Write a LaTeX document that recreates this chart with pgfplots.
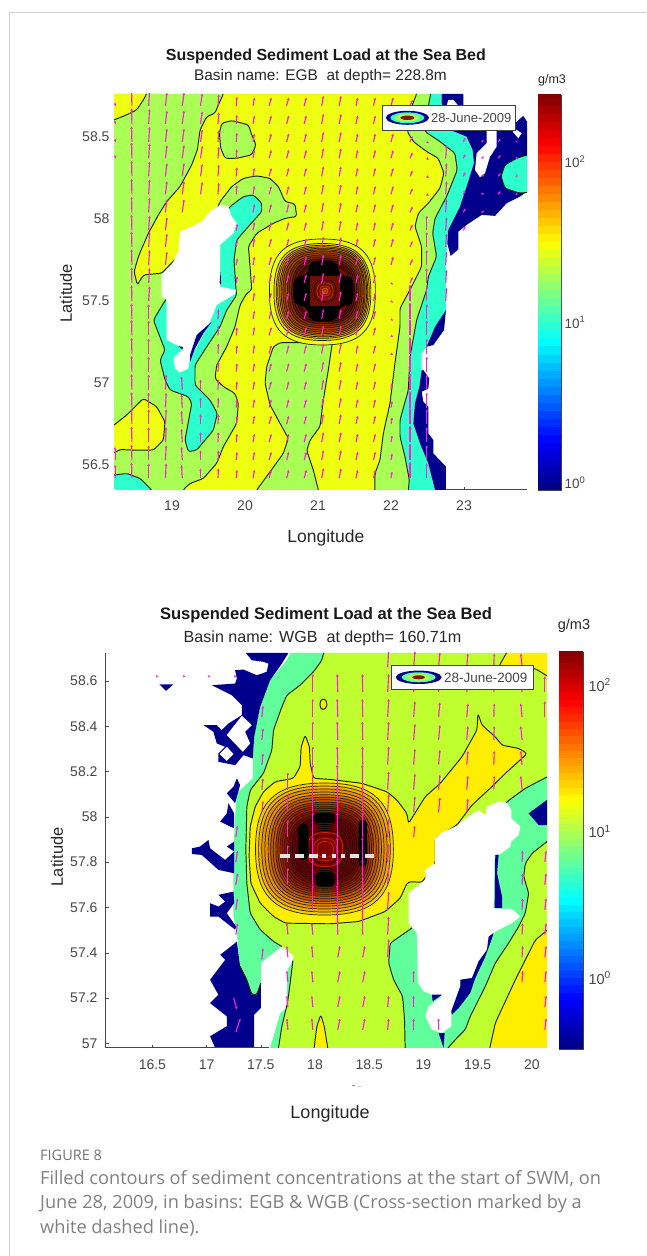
\documentclass[border=0pt]{standalone}
\usepackage{fontspec}
\setmainfont{Liberation Sans}
\newfontfamily\capfont{Open Sans}
\usepackage{pgfplots}
\usepackage{pgfplotstable}
\pgfplotsset{compat=1.18}
\usetikzlibrary{arrows.meta}
\definecolor{ya}{RGB}{238,255,16}
\definecolor{ga}{RGB}{170,255,85}
\definecolor{ta}{RGB}{45,255,205}
\definecolor{yb}{RGB}{255,238,0}
\definecolor{gb}{RGB}{191,255,48}
\definecolor{tb}{RGB}{96,255,155}
\definecolor{nv}{RGB}{0,0,140}
\definecolor{cl}{RGB}{25,35,10}
\definecolor{pk}{RGB}{255,30,220}
\definecolor{txt}{RGB}{70,70,70}
\definecolor{o1}{RGB}{250,205,0}
\definecolor{o2}{RGB}{245,175,0}
\definecolor{o3}{RGB}{235,145,0}
\definecolor{o4}{RGB}{220,115,0}
\definecolor{o5}{RGB}{200,85,0}
\definecolor{o6}{RGB}{175,60,0}
\definecolor{o7}{RGB}{150,40,0}
\definecolor{o8}{RGB}{130,25,0}
\definecolor{o9}{RGB}{110,15,0}
\definecolor{r1}{RGB}{190,50,0}
\definecolor{r2}{RGB}{170,25,0}
\definecolor{r3}{RGB}{150,10,0}
\definecolor{r4}{RGB}{130,0,0}
\pgfdeclareplotmark{rr}{%
 \pgfpathmoveto{\pgfpoint{\pgfplotmarksize}{0pt}}%
 \pgfpathcurveto{\pgfpoint{\pgfplotmarksize}{.72\pgfplotmarksize}}{\pgfpoint{.72\pgfplotmarksize}{\pgfplotmarksize}}{\pgfpoint{0pt}{\pgfplotmarksize}}%
 \pgfpathcurveto{\pgfpoint{-.72\pgfplotmarksize}{\pgfplotmarksize}}{\pgfpoint{-\pgfplotmarksize}{.72\pgfplotmarksize}}{\pgfpoint{-\pgfplotmarksize}{0pt}}%
 \pgfpathcurveto{\pgfpoint{-\pgfplotmarksize}{-.72\pgfplotmarksize}}{\pgfpoint{-.72\pgfplotmarksize}{-\pgfplotmarksize}}{\pgfpoint{0pt}{-\pgfplotmarksize}}%
 \pgfpathcurveto{\pgfpoint{.72\pgfplotmarksize}{-\pgfplotmarksize}}{\pgfpoint{\pgfplotmarksize}{-.72\pgfplotmarksize}}{\pgfpoint{\pgfplotmarksize}{0pt}}%
 \pgfpathclose
 \pgfusepathqfillstroke}
\newcommand\ring[5]{\addplot[only marks,mark=rr,mark size=#1pt,mark options={solid,draw=#5,line width=.7pt,fill=#2,xscale=#3}] coordinates {#4};}
\tikzset{ct/.style={draw=cl,line width=.95pt,line join=round,rounded corners=2.5pt},
 qva/.style={pk,line width=1.15pt,-{Stealth[length=2.6pt,width=2.6pt]}},
 qv/.style={pk}}
\pgfplotstableread{
lat
58.69
58.58
58.47
58.37
58.26
58.15
58.04
57.93
57.83
57.72
57.61
57.50
57.39
57.29
57.18
57.07
56.96
56.85
56.75
56.64
56.53
56.42
}\latsA
\pgfplotstableread{
lat
58.66
58.55
58.44
58.34
58.23
58.12
58.02
57.91
57.80
57.70
57.59
57.48
57.38
57.27
57.16
57.06
}\latsB
\pgfplotstableread{
lev
-0.50
-0.45
-0.40
-0.35
-0.30
-0.25
-0.20
-0.15
-0.10
-0.05
0.00
0.05
0.10
0.15
0.20
0.25
0.30
0.35
0.40
0.45
0.50
0.55
0.60
0.65
0.70
0.75
0.80
0.85
0.90
0.95
1.00
1.05
1.10
1.15
1.20
1.25
1.30
1.35
1.40
1.45
1.50
1.55
1.60
1.65
1.70
1.75
1.80
1.85
1.90
1.95
2.00
2.05
2.10
2.15
2.20
2.25
2.30
2.35
2.40
2.45
}\levs
\newcommand\qa[5]{\addplot[qv,quiver={u=#2,v=#3,every arrow/.append style={qva}},restrict y to domain=#4:#5] table[x expr=#1,y=lat]{\latsA};}
\newcommand\qb[5]{\addplot[qv,quiver={u=#2,v=#3,every arrow/.append style={qva}},restrict y to domain=#4:#5] table[x expr=#1,y=lat]{\latsB};}
\newcommand\qp[3]{\addplot[qv,quiver={u=#2,v=#3,every arrow/.append style={qva}}] coordinates {#1};}
\pgfplotsset{map/.style={scale only axis,anchor=south west,axis x line=bottom,axis y line=left,clip mode=individual,
  axis line style={draw=none},tick align=inside,tick style={draw=txt,line width=.6pt},major tick length=3pt,
  tick label style={font=\fontsize{14}{16}\selectfont,text=txt,/pgf/number format/assume math mode=true,/pgf/number format/fixed},
  xlabel style={font=\fontsize{17.5}{19}\selectfont,text=black!85},
  ylabel style={font=\fontsize{16.5}{18}\selectfont,text=black!85},
  title style={font=\fontsize{16}{18}\selectfont\bfseries,text=black!90}},
 cbar/.style={scale only axis,anchor=south west,xmin=0,xmax=1,xtick=\empty,ytick pos=right,yticklabel pos=right,
  axis line style={draw=txt,line width=.6pt},tick align=inside,tick style={draw=txt,line width=.5pt},
  major tick length=3pt,minor tick length=1.5pt,ytick={0,1,2},
  yticklabels={10\textsuperscript{0},10\textsuperscript{1},10\textsuperscript{2}},
  minor ytick={-.398,-.301,-.222,-.155,-.097,-.046,.301,.477,.602,.699,.778,.845,.903,.954,1.301,1.477,1.602,1.699,1.778,1.845,1.903,1.954,2.301},
  colormap/jet}}
\begin{document}
\begin{tikzpicture}[x=1pt,y=1pt]
\path[use as bounding box] (0,0) rectangle (646,1256);
\draw[black!18,line width=.8pt] (9,0) -- (9,1244) -- (646,1244);
%%%%% EGB
\begin{axis}[map,at={(114pt,766pt)},width=413pt,height=396pt,
 xmin=18.205,xmax=23.863,ymin=56.348,ymax=58.762,
 xtick={19,20,21,22,23},ytick={56.5,57,57.5,58,58.5},
 xticklabel style={yshift=-7pt},yticklabel style={xshift=-1pt},
 xlabel={Longitude},ylabel={Latitude},
 xlabel style={at={(axis description cs:.513,-.121)},anchor=center},
 ylabel style={at={(axis description cs:-.116,.497)},anchor=center},
 title={Suspended Sediment Load at the Sea Bed},
 title style={at={(axis description cs:.513,1.081)},anchor=center}]
% yellow field
\addplot[fill=ya,draw=none] coordinates {(18.205,58.762)(22.543,58.763)(22.511,58.685)(22.465,58.533)(22.671,58.472)(22.876,58.401)(22.908,58.299)(22.762,58.137)(22.603,58.004)(22.570,57.913)(22.625,57.771)(22.511,57.649)(22.488,57.567)(22.351,57.384)(22.260,57.160)(22.237,56.957)(22.123,56.774)(22.123,56.673)(22.191,56.551)(22.251,56.408)(22.237,56.348)(18.205,56.348)} -- cycle;
% teal strip right
\addplot[fill=ta,draw=none] coordinates {(22.543,58.763)(22.511,58.685)(22.465,58.533)(22.671,58.472)(22.876,58.401)(22.908,58.299)(22.762,58.137)(22.603,58.004)(22.570,57.913)(22.625,57.771)(22.511,57.649)(22.488,57.567)(22.351,57.384)(22.260,57.160)(22.237,56.957)(22.123,56.774)(22.123,56.673)(22.191,56.551)(22.251,56.408)(22.237,56.348)(22.603,56.348)(22.511,56.510)(22.397,56.632)(22.306,56.754)(22.328,56.876)(22.388,56.977)(22.420,57.079)(22.420,57.181)(22.488,57.221)(22.753,57.445)(22.753,57.750)(22.771,57.852)(22.785,57.933)(22.945,58.076)(23.036,58.198)(23.137,58.340)(23.118,58.421)(23.036,58.502)(22.831,58.539)(22.694,58.706)(22.694,58.763)} -- cycle;
% green strip right
\addplot[fill=ga,ct] coordinates {(22.36,58.85)(22.351,58.763)(22.283,58.685)(22.223,58.533)(22.306,58.472)(22.488,58.411)(22.648,58.370)(22.726,58.279)(22.671,58.187)(22.511,58.096)(22.374,58.035)(22.328,57.954)(22.420,57.832)(22.420,57.710)(22.283,57.588)(22.123,57.455)(22.123,57.343)(22.054,57.120)(21.986,56.876)(21.895,56.693)(21.849,56.530)(21.780,56.449)(21.780,56.25)(22.23,56.25)(22.237,56.348)(22.251,56.408)(22.191,56.551)(22.123,56.673)(22.123,56.774)(22.237,56.957)(22.260,57.160)(22.351,57.384)(22.488,57.567)(22.511,57.649)(22.625,57.771)(22.570,57.913)(22.603,58.004)(22.762,58.137)(22.908,58.299)(22.876,58.401)(22.671,58.472)(22.465,58.533)(22.511,58.685)(22.543,58.763)(22.55,58.85)} -- cycle;
% navy right
\addplot[fill=nv,draw=none] coordinates {(22.694,58.763)(22.694,58.706)(22.831,58.539)(23.036,58.502)(23.118,58.421)(23.137,58.340)(23.036,58.198)(22.945,58.076)(22.785,57.933)(22.771,57.852)(22.817,57.775)(22.922,57.815)(22.922,57.923)(23.036,57.964)(23.242,58.025)(23.424,58.019)(23.584,58.096)(23.767,58.137)(23.863,58.167)(23.863,58.594)(23.812,58.628)(23.698,58.584)(22.990,58.691)(22.990,58.763)} -- cycle;
\addplot[fill=nv,draw=none] coordinates {(22.753,57.445)(22.603,57.343)(22.488,57.221)(22.580,57.232)(22.726,57.323)} -- cycle;
\addplot[fill=nv,draw=none] coordinates {(22.443,57.079)(22.525,57.028)(22.511,56.967)(22.420,56.947)(22.443,56.886)(22.511,56.856)(22.511,56.693)(22.580,56.652)(22.580,56.571)(22.753,56.490)(22.753,56.348)(22.603,56.348)(22.511,56.510)(22.397,56.632)(22.306,56.754)(22.328,56.876)(22.388,56.977)(22.420,57.079)} -- cycle;
\addplot[fill=white,draw=none] coordinates {(22.785,58.726)(22.854,58.726)(22.922,58.691)(22.762,58.691)} -- cycle;
\addplot[fill=white,draw=none] coordinates {(23.447,58.539)(23.447,58.441)(23.356,58.380)(23.287,58.279)(23.219,58.254)(23.151,58.299)(23.173,58.401)(23.311,58.462)(23.311,58.539)} -- cycle;
\addplot[fill=white,draw=none] coordinates {(23.666,58.533)(23.721,58.543)(23.790,58.523)(23.744,58.492)} -- cycle;
\addplot[fill=ta,ct] coordinates {(23.95,58.391)(23.867,58.391)(23.721,58.370)(23.561,58.330)(23.507,58.259)(23.561,58.187)(23.767,58.157)(23.95,58.167)} -- cycle;
% green left
\addplot[fill=ga,ct] coordinates {(18.1,58.85)(19.72,58.85)(19.704,58.763)(19.635,58.696)(19.589,58.645)(19.475,58.624)(19.384,58.543)(19.347,58.421)(19.270,58.330)(19.110,58.198)(18.927,58.106)(18.813,58.025)(18.676,57.913)(18.539,57.771)(18.480,57.679)(18.525,57.598)(18.608,57.659)(18.745,57.665)(18.859,57.669)(19.293,57.872)(19.612,58.055)(19.658,58.106)(19.818,58.198)(19.977,58.248)(20.160,58.263)(20.343,58.248)(20.457,58.198)(20.548,58.106)(20.685,58.092)(20.708,58.015)(20.548,58.004)(20.388,57.974)(20.160,57.913)(20.046,57.832)(20.069,57.710)(20.092,57.567)(20.023,57.547)(19.932,57.476)(19.863,57.343)(19.749,57.221)(19.612,57.110)(19.589,57.028)(19.703,56.978)(19.863,56.937)(19.909,56.876)(19.886,56.754)(19.703,56.612)(19.612,56.510)(19.429,56.418)(19.247,56.388)(19.155,56.351)(19.13,56.25)(18.1,56.25)} -- cycle;
\addplot[fill=ya,ct] coordinates {(18.1,58.58)(18.206,58.604)(18.379,58.635)(18.516,58.665)(18.608,58.726)(18.653,58.763)(18.67,58.85)(18.1,58.85)} -- cycle;
\addplot[fill=ya,ct] coordinates {(18.1,56.71)(18.206,56.744)(18.379,56.805)(18.608,56.906)(18.790,56.856)(18.904,56.764)(18.882,56.652)(18.745,56.591)(18.471,56.591)(18.288,56.595)(18.206,56.575)(18.1,56.56)} -- cycle;
\addplot[fill=ta,ct] coordinates {(18.1,56.44)(18.206,56.439)(18.379,56.449)(18.562,56.419)(18.722,56.348)(18.76,56.25)(18.1,56.25)} -- cycle;
\addplot[fill=ta,ct] coordinates {(19.703,58.015)(19.795,58.076)(19.977,58.137)(20.115,58.147)(20.229,58.096)(20.229,58.045)(20.046,57.954)(19.886,57.872)(19.849,57.750)(19.877,57.567)(19.886,57.537)(19.749,57.445)(19.658,57.343)(19.475,57.221)(19.315,57.110)(19.315,56.988)(19.521,56.896)(19.621,56.815)(19.567,56.713)(19.338,56.591)(19.224,56.581)(19.178,56.652)(19.270,56.876)(19.224,56.917)(18.973,56.957)(18.904,57.018)(18.836,57.140)(18.904,57.201)(18.745,57.384)(18.882,57.486)(19.2,57.7)} -- cycle;
\addplot[fill=white,draw=none] coordinates {(19.521,58.045)(19.407,57.984)(19.270,57.954)(19.110,57.923)(19.087,57.801)(18.996,57.720)(18.859,57.659)(18.859,57.526)(18.927,57.506)(18.927,57.262)(19.064,57.232)(19.155,57.211)(19.019,57.150)(19.041,57.089)(19.110,57.063)(19.224,57.089)(19.247,57.160)(19.338,57.221)(19.521,57.374)(19.612,57.476)(19.863,57.543)(19.877,57.567)(19.658,57.588)(19.658,57.842)(19.840,57.913)(19.886,57.974)(19.818,58.015)(19.772,58.076)(19.658,58.086)} -- cycle;
\addplot[fill=nv,draw=none] coordinates {(19.544,57.374)(19.429,57.303)(19.315,57.211)(19.247,57.130)(19.247,57.171)(19.338,57.293)} -- cycle;
\addplot[fill=nv,draw=none] coordinates {(19.09,57.225)(19.15,57.22)(19.14,57.205)} -- cycle;
\addplot[fill=nv,draw=none] coordinates {(19.652,57.61)(19.665,57.68)(19.672,57.60)} -- cycle;
\addplot[fill=ga,ct] coordinates {(19.681,58.584)(19.818,58.600)(20.046,58.574)(20.092,58.513)(20.151,58.452)(20.092,58.391)(19.886,58.370)(19.726,58.370)(19.667,58.431)(19.649,58.523)} -- cycle;
% centre wedge
\addplot[fill=ga,ct] coordinates {(21.196,57.246)(20.480,57.246)(20.388,57.221)(20.297,57.100)(20.274,56.998)(20.343,56.866)(20.480,56.754)(20.594,56.663)(20.525,56.571)(20.343,56.459)(20.160,56.348)(20.12,56.25)(21.03,56.25)(21.005,56.348)(20.936,56.469)(20.845,56.591)(20.891,56.652)(21.027,56.734)(21.073,56.896)(21.141,57.079)} -- cycle;
% concentrated patch
\ring{53}{ya}{1}{(21.06,57.555)}{cl}
\ring{48.5}{o1}{1}{(21.06,57.555)}{cl}
\ring{46.5}{o2}{1}{(21.065,57.556)}{cl}
\ring{45}{o3}{1}{(21.065,57.556)}{cl}
\ring{43.5}{o4}{1}{(21.07,57.557)}{cl}
\ring{42}{o5}{1}{(21.07,57.557)}{cl}
\ring{40.5}{o6}{1}{(21.075,57.558)}{cl}
\ring{38.5}{o6}{1}{(21.075,57.558)}{cl}
\ring{36.5}{o7}{1}{(21.08,57.559)}{cl}
\ring{34.5}{o7}{1}{(21.08,57.559)}{cl}
\ring{32.5}{o8}{1}{(21.085,57.56)}{black}
\ring{30.5}{o8}{1}{(21.085,57.56)}{black}
\ring{28.5}{o9}{1}{(21.09,57.56)}{black}
\ring{26.5}{o9}{1}{(21.09,57.56)}{black}
\addplot[fill=black,draw=none,rounded corners=8pt] coordinates {(20.868,57.744)(21.278,57.744)(21.278,57.652)(21.483,57.652)(21.483,57.470)(21.278,57.470)(21.278,57.378)(20.868,57.378)(20.868,57.470)(20.663,57.470)(20.663,57.652)(20.868,57.652)} -- cycle;
\addplot[fill=o9,draw=none] coordinates {(20.89,57.652)(21.30,57.652)(21.30,57.47)(20.89,57.47)} -- cycle;
\ring{11}{o9}{1}{(21.096,57.561)}{black!70!o9}
\ring{8}{o9}{1}{(21.096,57.561)}{r1}
\ring{5}{o8}{1}{(21.096,57.561)}{r1}
\ring{2.8}{r1}{1}{(21.096,57.561)}{o5}
% velocity
\qa{18.22}{0}{.02}{58.3}{58.7}\qa{18.22}{0}{.08}{56.4}{56.6}
\qa{18.45}{-.004}{.095}{56.4}{58.7}
\qa{18.68}{.012}{.09}{57.5}{58.7}\qa{18.68}{0}{.09}{56.4}{57.45}
\qa{18.91}{.02}{.08}{57.7}{58.7}\qa{18.91}{.01}{.09}{56.4}{57.0}
\qa{19.14}{.025}{.08}{57.95}{58.7}\qa{19.14}{-.01}{.08}{56.4}{57.0}
\qa{19.39}{.025}{.075}{58.05}{58.7}\qa{19.39}{0}{.06}{56.4}{57.0}
\qa{19.63}{.01}{.07}{58.1}{58.7}\qa{19.63}{.005}{.06}{56.4}{57.4}
\qa{19.88}{.008}{.055}{58.1}{58.7}\qa{19.88}{.015}{.04}{57.6}{57.95}\qa{19.88}{.01}{.05}{56.4}{57.35}
\qa{20.11}{.02}{.05}{56.4}{58.7}
\qa{20.33}{.03}{.05}{56.4}{58.7}
\qa{20.57}{.03}{.05}{56.4}{58.7}
\qa{20.81}{.03}{.05}{56.4}{58.7}
\qa{21.05}{.025}{.06}{56.4}{58.7}
\qa{21.29}{.025}{.06}{56.4}{58.7}
\qa{21.52}{.025}{.05}{56.4}{58.7}
\qa{21.76}{.025}{.05}{56.4}{58.7}
\qa{22.00}{.03}{.05}{57.7}{58.7}\qa{22.00}{.025}{-.01}{57.1}{57.65}\qa{22.00}{.015}{.04}{56.4}{57.05}
\qa{22.26}{.035}{.035}{57.6}{58.7}\qa{22.26}{0}{.1}{56.4}{57.5}
\qa{22.49}{.03}{-.008}{58.1}{58.6}\qa{22.49}{0}{.09}{56.4}{57.95}
\qa{22.75}{.01}{.08}{57.4}{58.4}
\qa{22.99}{.03}{.025}{57.9}{58.5}
\qa{23.24}{.035}{.01}{57.95}{58.5}
\qa{23.47}{.03}{.02}{58.05}{58.5}
\qa{23.72}{.01}{.01}{58.1}{58.55}
\draw[txt,line width=1pt] (axis cs:22.75,56.348) -- (axis cs:23.863,56.348);
\end{axis}
\node[font=\fontsize{15.4}{17}\selectfont,text=black!85] at (320.5,1256-77) {Basin name: EGB\ \ at depth= 228.8m};
\node[font=\fontsize{12.5}{14}\selectfont,text=black!85] at (552,1256-80) {g/m3};
% legend 1
\draw[fill=white,draw=black!75,line width=.8pt] (382.3,1256-105.7) rectangle (515,1256-130.7);
\fill[nv] (407.4,1256-117.8) ellipse (21.6 and 7);
\fill[ta] (407.4,1256-117.8) ellipse (17 and 5.4);
\fill[ga] (407.4,1256-117.8) ellipse (13 and 4);
\fill[o8] (407.4,1256-117.8) ellipse (7 and 2.2);
\node[anchor=west,inner sep=0pt,font=\fontsize{13}{15}\selectfont,text=txt] at (431,1256-118) {28-June-2009};
\begin{axis}[cbar,at={(538pt,766pt)},width=23pt,height=395pt,ymin=-.044,ymax=2.417,point meta min=-.044,point meta max=2.417,
 tick label style={font=\fontsize{13.5}{15}\selectfont,text=txt}]
\addplot[mesh,shader=flat,line width=24pt,point meta=y] table[x expr=.5,y=lev]{\levs};
\end{axis}
%%%%% WGB
\begin{axis}[map,at={(106pt,208pt)},width=441pt,height=395pt,
 xmin=16.072,xmax=20.14,ymin=56.98,ymax=58.723,
 xtick={16.5,17,17.5,18,18.5,19,19.5,20},ytick={57,57.2,57.4,57.6,57.8,58,58.2,58.4,58.6},
 xticklabel style={yshift=-8pt},yticklabel style={xshift=-5pt},
 xlabel={Longitude},ylabel={Latitude},
 xlabel style={at={(axis description cs:.508,-.167)},anchor=center,font=\fontsize{18}{20}\selectfont},
 ylabel style={at={(axis description cs:-.111,.484)},anchor=center},
 title={Suspended Sediment Load at the Sea Bed},
 title style={at={(axis description cs:.499,1.081)},anchor=center,font=\fontsize{16.6}{18}\selectfont\bfseries}]
% teal west band
\addplot[fill=tb,draw=none] coordinates {(17.771,58.723)(18.079,58.723)(18.063,58.691)(17.986,58.640)(17.863,58.581)(17.740,58.537)(17.694,58.485)(17.617,58.383)(17.602,58.294)(17.525,58.192)(17.402,58.118)(17.371,58.045)(17.362,57.854)(17.371,57.707)(17.402,57.575)(17.494,57.502)(17.617,57.450)(17.694,57.428)(17.555,57.377)(17.500,57.355)(17.500,57.267)(17.463,57.215)(17.417,57.215)(17.371,57.281)(17.309,57.340)(17.279,57.487)(17.248,57.560)(17.248,57.854)(17.263,58.001)(17.279,58.104)(17.426,58.170)(17.426,58.258)(17.439,58.353)(17.494,58.485)(17.586,58.603)(17.740,58.691)} -- cycle;
% base field
\addplot[fill=gb,draw=none] coordinates {(18.079,58.723)(18.063,58.691)(17.986,58.640)(17.863,58.581)(17.740,58.537)(17.694,58.485)(17.617,58.383)(17.602,58.294)(17.525,58.192)(17.402,58.118)(17.371,58.045)(17.362,57.854)(17.371,57.707)(17.402,57.575)(17.494,57.502)(17.617,57.450)(17.694,57.428)(17.802,57.387)(17.796,57.366)(17.771,57.267)(17.746,57.178)(17.694,57.076)(17.663,56.980)(20.14,56.98)(20.14,58.723)} -- cycle;
\addplot[fill=tb,draw=none] coordinates {(17.796,57.366)(17.746,57.325)(17.740,57.156)(17.679,57.134)(17.586,56.980)(17.663,56.980)(17.694,57.076)(17.746,57.178)(17.771,57.267)} -- cycle;
\addplot[ct] coordinates {(18.079,58.723)(18.063,58.691)(17.986,58.640)(17.863,58.581)(17.740,58.537)(17.694,58.485)(17.617,58.383)(17.602,58.294)(17.525,58.192)(17.402,58.118)(17.371,58.045)(17.362,57.854)(17.371,57.707)(17.402,57.575)(17.494,57.502)(17.617,57.450)(17.694,57.428)};
\addplot[ct] coordinates {(17.796,57.366)(17.771,57.267)(17.746,57.178)(17.694,57.076)(17.663,56.980)};
% navy west
\addplot[fill=nv,draw=none] coordinates {(17.362,58.723)(17.755,58.723)(17.694,58.676)(17.586,58.603)(17.494,58.485)(17.439,58.353)(17.426,58.258)(17.340,58.272)(17.263,58.228)(17.109,58.243)(17.109,58.280)(17.171,58.309)(17.094,58.324)(17.063,58.375)(16.971,58.405)(17.094,58.405)(17.140,58.383)(17.202,58.412)(17.325,58.449)(17.325,58.493)(17.232,58.537)(17.048,58.581)(17.263,58.588)(17.279,58.610)(17.263,58.647)(17.340,58.650)(17.463,58.625)(17.555,58.640)(17.571,58.676)(17.525,58.684)(17.417,58.691)} -- cycle;
\addplot[fill=white,draw=none] coordinates {(17.325,58.446)(17.417,58.405)(17.355,58.375)(17.402,58.324)(17.334,58.287)(17.186,58.361)} -- cycle;
\addplot[fill=white,draw=none] coordinates {(17.186,58.309)(17.248,58.277)(17.186,58.247)(17.119,58.277)} -- cycle;
\addplot[fill=nv,draw=none] coordinates {(16.565,58.585)(16.694,58.585)(16.626,58.556)} -- cycle;
\addplot[fill=nv,draw=none] coordinates {(17.279,58.170)(17.309,58.140)(17.263,58.060)(17.186,58.104)(17.248,58.133)} -- cycle;
\addplot[fill=nv,draw=none] coordinates {(17.202,58.060)(17.254,58.015)(17.254,57.949)(17.125,57.979)(17.186,58.015)} -- cycle;
\addplot[fill=nv,draw=none] coordinates {(16.863,57.861)(16.940,57.869)(17.017,57.898)(17.032,57.861)(17.171,57.810)(17.254,57.847)(17.254,57.751)(17.109,57.766)(16.955,57.832)(16.863,57.836)} -- cycle;
\addplot[fill=nv,draw=none] coordinates {(17.186,57.869)(17.254,57.891)(17.254,57.847)} -- cycle;
\addplot[fill=nv,draw=none] coordinates {(17.109,57.656)(17.248,57.670)(17.254,57.619)(17.186,57.575)(17.272,57.516)(17.263,57.502)(17.109,57.560)(17.032,57.560)(17.032,57.619)(17.109,57.604)(17.171,57.626)} -- cycle;
\addplot[fill=nv,draw=none] coordinates {(17.279,57.450)(17.309,57.340)(17.371,57.281)(17.417,57.215)(17.463,57.215)(17.500,57.267)(17.500,57.156)(17.439,57.127)(17.439,56.980)(17.079,56.980)(17.032,57.032)(17.186,57.076)(17.186,57.120)(17.032,57.178)(17.109,57.215)(17.032,57.281)(17.171,57.369)(17.125,57.391)(17.263,57.443)} -- cycle;
\addplot[ct] coordinates {(17.309,57.340)(17.371,57.281)(17.417,57.215)(17.463,57.215)(17.500,57.267)};
% teal east
\addplot[fill=tb,ct] coordinates {(20.156,58.180)(19.940,58.126)(19.771,58.067)(19.479,57.854)(18.894,57.509)(18.694,57.443)(18.679,57.355)(18.725,57.281)(18.808,57.208)(18.826,57.105)(18.832,56.958)(19.186,56.958)(19.294,57.017)(19.386,57.061)(19.432,57.120)(19.571,57.252)(19.663,57.355)(19.786,57.443)(19.879,57.516)(19.940,57.575)(19.971,57.663)(19.925,57.736)(19.940,57.795)(20.002,57.839)(20.140,57.891)(20.156,57.891)} -- cycle;
\addplot[fill=nv,draw=none] coordinates {(20.16,58.082)(19.971,58.015)(20.063,57.964)(20.156,57.964)} -- cycle;
% yellow areas
\addplot[fill=yb,ct] coordinates {(20.156,57.505)(20.033,57.457)(19.940,57.369)(19.848,57.281)(19.663,57.090)(19.602,56.958)(20.156,56.958)} -- cycle;
\addplot[fill=yb,ct] coordinates {(19.694,58.662)(19.780,58.735)(20.156,58.735)(20.156,58.617)(20.033,58.654)} -- cycle;
\addplot[fill=yb,ct] coordinates {(17.986,56.958)(18.017,57.076)(18.054,57.127)(18.085,57.076)(18.125,56.958)} -- cycle;
\addplot[fill=yb,ct] coordinates {(18.048,58.515)(18.094,58.522)(18.115,58.493)(18.085,58.471)(18.048,58.478)} -- cycle;
\addplot[fill=yb,ct] coordinates {(17.986,58.170)(17.955,58.236)(17.949,58.309)(17.909,58.361)(17.872,58.309)(17.863,58.221)(17.802,58.170)(17.632,58.155)(17.525,58.111)(17.448,58.045)(17.402,57.957)(17.392,57.825)(17.408,57.707)(17.494,57.619)(17.617,57.560)(17.725,57.531)(18.140,57.528)(18.402,57.538)(18.648,57.582)(18.786,57.641)(18.848,57.707)(18.879,57.714)(18.986,57.711)(19.109,57.795)(19.109,57.905)(19.309,57.964)(19.448,58.052)(19.632,58.133)(19.756,58.192)(19.909,58.258)(19.956,58.280)(19.879,58.302)(19.725,58.316)(19.663,58.353)(19.540,58.405)(19.503,58.456)(19.494,58.383)(19.356,58.265)(19.156,58.148)(19.017,58.089)(18.863,57.971)(18.848,58.015)(18.756,58.074)(18.663,58.111)(18.432,58.148)(18.140,58.165)} -- cycle;
% white island
\addplot[fill=white,draw=none] coordinates {(19.694,58.067)(19.771,58.062)(19.811,58.030)(19.811,57.993)(19.894,57.957)(19.879,57.920)(19.811,57.891)(19.802,57.869)(19.709,57.836)(19.657,57.832)(19.648,57.597)(19.817,57.593)(19.894,57.560)(19.817,57.531)(19.663,57.494)(19.617,57.457)(19.586,57.413)(19.509,57.362)(19.448,57.289)(19.340,57.281)(19.340,57.252)(19.257,57.142)(19.257,57.076)(19.171,57.046)(19.079,57.061)(19.017,57.120)(19.048,57.164)(19.171,57.208)(19.079,57.215)(19.002,57.230)(18.949,57.267)(18.940,57.487)(18.863,57.531)(18.863,57.663)(19.017,57.722)(19.017,57.766)(19.109,57.795)(19.109,57.905)(19.171,57.930)(19.309,57.960)(19.417,58.001)(19.509,58.030)(19.571,58.008)(19.586,58.045)} -- cycle;
\addplot[fill=nv,draw=none] coordinates {(19.663,57.832)(19.694,57.832)(19.679,57.751)(19.725,57.648)(19.725,57.597)(19.657,57.597)} -- cycle;
\addplot[fill=nv,draw=none] coordinates {(19.602,57.472)(19.648,57.487)(19.617,57.443)(19.565,57.377)(19.479,57.289)(19.432,57.223)(19.325,57.156)(19.263,57.127)(19.257,57.142)(19.340,57.252)(19.340,57.281)(19.448,57.289)(19.509,57.362)(19.586,57.413)} -- cycle;
\addplot[fill=nv,draw=none] coordinates {(19.079,57.215)(19.171,57.215)(19.085,57.186)} -- cycle;
\addplot[fill=nv,draw=none] coordinates {(19.140,57.046)(19.196,57.046)(19.186,56.980)} -- cycle;
% concentrated patch
\ring{66}{o1}{1.045}{(18.087,57.858)}{cl}
\ring{63}{o2}{1.045}{(18.087,57.858)}{cl}
\ring{60}{o3}{1.045}{(18.087,57.858)}{cl}
\ring{57}{o3}{1.045}{(18.087,57.858)}{cl}
\ring{54.5}{o4}{1.04}{(18.09,57.857)}{cl}
\ring{52}{o5}{1.04}{(18.09,57.857)}{cl}
\ring{49.5}{o5}{1.04}{(18.09,57.857)}{cl}
\ring{47}{r1}{1.04}{(18.09,57.857)}{cl}
\ring{45}{r1}{1.04}{(18.09,57.857)}{cl}
\ring{43}{r2}{1.04}{(18.09,57.857)}{cl}
\ring{41}{r2}{1.04}{(18.09,57.857)}{cl}
\ring{39}{r3}{1.04}{(18.09,57.856)}{cl}
\ring{37}{r3}{1.04}{(18.09,57.856)}{cl}
\ring{35}{r4}{1.04}{(18.09,57.856)}{cl}
\ring{33}{r4}{1.04}{(18.09,57.856)}{cl}
\ring{31}{r4}{1.04}{(18.09,57.856)}{black}
\ring{29}{r4}{1.04}{(18.09,57.856)}{black}
\ring{27}{r4}{1.04}{(18.09,57.856)}{black}
\ring{25}{r4}{1.04}{(18.09,57.856)}{black}
\ring{23}{r4}{1.04}{(18.09,57.856)}{black}
\ring{21}{r4}{1.04}{(18.09,57.856)}{black}
\ring{19}{r4}{1.04}{(18.094,57.856)}{black}
\ring{17}{r4}{1.04}{(18.094,57.856)}{r1}
\ring{14}{r4}{1.04}{(18.094,57.856)}{black}
\ring{11}{r4}{1.04}{(18.094,57.856)}{r1}
\ring{8}{r4}{1.04}{(18.094,57.856)}{r1}
\addplot[fill=black,draw=none,rounded corners=5pt] coordinates {(17.847,57.972)(17.94,57.972)(17.94,57.81)(17.847,57.81)} -- cycle;
\addplot[fill=black,draw=none,rounded corners=4pt] coordinates {(18.402,57.986)(18.479,57.986)(18.479,57.78)(18.402,57.78)} -- cycle;
\addplot[fill=black,draw=none,rounded corners=3pt] coordinates {(17.986,58.016)(18.186,58.016)(18.186,57.972)(17.986,57.972)} -- cycle;
\addplot[fill=black,draw=none,rounded corners=5pt] coordinates {(18.0,57.758)(18.186,57.758)(18.186,57.692)(18.0,57.692)} -- cycle;
% velocity
\qp{(16.54,58.62)(16.79,58.62)(17.02,58.62)(17.26,58.62)}{.015}{0}
\qb{17.27}{.015}{.05}{57.45}{58.0}
\qp{(17.25,57.2)}{.03}{-.05}
\qp{(17.27,57.05)}{.04}{.06}
\qb{17.51}{.01}{.05}{57.95}{58.45}
\qp{(17.51,57.37)}{.01}{.05}
\qb{17.75}{0}{.075}{57.6}{58.15}\qb{17.75}{-.01}{.05}{57.0}{57.55}
\qb{17.98}{0}{.08}{58.15}{58.6}\qb{17.98}{0}{.11}{57.55}{58.13}\qb{17.98}{-.01}{.05}{57.0}{57.54}
\qb{18.21}{-.005}{.08}{58.15}{58.6}\qb{18.21}{-.005}{.11}{57.45}{58.13}\qb{18.21}{.02}{.05}{57.0}{57.4}
\qb{18.44}{-.003}{.08}{58.15}{58.6}\qb{18.44}{-.003}{.11}{57.45}{58.13}\qb{18.44}{.02}{.05}{57.0}{57.4}
\qb{18.67}{.01}{.08}{57.3}{58.66}\qb{18.67}{.01}{.05}{57.0}{57.25}
\qb{18.91}{.012}{.07}{58.0}{58.66}\qb{18.91}{.01}{.05}{57.9}{57.95}\qb{18.91}{0}{.05}{57.0}{57.3}
\qb{19.14}{.012}{.065}{58.0}{58.66}\qb{19.14}{0}{.05}{57.0}{57.1}
\qb{19.40}{.01}{.06}{58.0}{58.66}
\qb{19.65}{.003}{.06}{58.08}{58.66}
\qb{19.91}{-.012}{.06}{58.1}{58.66}\qb{19.91}{.005}{.05}{57.25}{57.8}
\qb{20.12}{.012}{.05}{57.0}{57.8}\qb{20.12}{0}{.07}{58.4}{58.6}
% section line
\addplot[white!90!black,line width=4pt,unbounded coords=jump] coordinates {(17.678,57.829)(17.771,57.829)(17.811,nan)(17.811,57.829)(17.894,57.829)(17.92,nan)(17.94,57.829)(18.027,57.829)(18.05,nan)(18.069,57.829)(18.103,57.829)(18.13,nan)(18.156,57.829)(18.193,57.829)(18.21,nan)(18.239,57.829)(18.279,57.829)(18.30,nan)(18.325,57.829)(18.408,57.829)(18.43,nan)(18.457,57.829)(18.54,57.829)};
\draw[txt,line width=1pt] (axis cs:16.072,58.723) -- (axis cs:16.072,56.98) -- (axis cs:17.58,56.98);
\end{axis}
\node[font=\fontsize{16.1}{18}\selectfont,text=black!85] at (322.5,1256-638) {Basin name: WGB\ \ at depth= 160.71m};
\node[font=\fontsize{14.5}{16}\selectfont,text=black!85] at (574,1256-626) {g/m3};
\draw[fill=white,draw=black!75,line width=.8pt] (391,1256-665) rectangle (533.3,1256-689.3);
\fill[nv] (418.7,1256-677.3) ellipse (23 and 6.7);
\fill[tb] (418.7,1256-677.3) ellipse (17 and 5);
\fill[ga] (418.7,1256-677.3) ellipse (12 and 3.6);
\fill[o8] (418.7,1256-677.3) ellipse (6.5 and 2);
\node[anchor=west,inner sep=0pt,font=\fontsize{13.5}{15}\selectfont,text=txt] at (444,1256-677.5) {28-June-2009};
\begin{axis}[cbar,at={(559pt,207pt)},width=24pt,height=397pt,ymin=-.485,ymax=2.225,point meta min=-.485,point meta max=2.225,
 tick label style={font=\fontsize{14.5}{16}\selectfont,text=txt,xshift=2pt}]
\addplot[mesh,shader=flat,line width=25pt,point meta=y] table[x expr=.5,y=lev]{\levs};
\end{axis}
\fill[black!45] (352,1256-1085) rectangle (355,1256-1086.5);
\fill[black!20] (358,1256-1086) rectangle (361,1256-1087);
% caption
\node[anchor=base west,inner sep=0pt,font=\capfont\fontsize{14.5}{16}\selectfont,text=black!55] at (40,1256-1161) {FIGURE 8};
\node[anchor=base west,inner sep=0pt,font=\capfont\fontsize{18.2}{20}\selectfont,text=black!50] at (40,1256-1185) {Filled contours of sediment concentrations at the start of SWM, on};
\node[anchor=base west,inner sep=0pt,font=\capfont\fontsize{18.2}{20}\selectfont,text=black!50] at (40,1256-1209) {June 28, 2009, in basins: EGB \& WGB (Cross-section marked by a};
\node[anchor=base west,inner sep=0pt,font=\capfont\fontsize{18.2}{20}\selectfont,text=black!50] at (40,1256-1233) {white dashed line).};
\end{tikzpicture}
\end{document}
